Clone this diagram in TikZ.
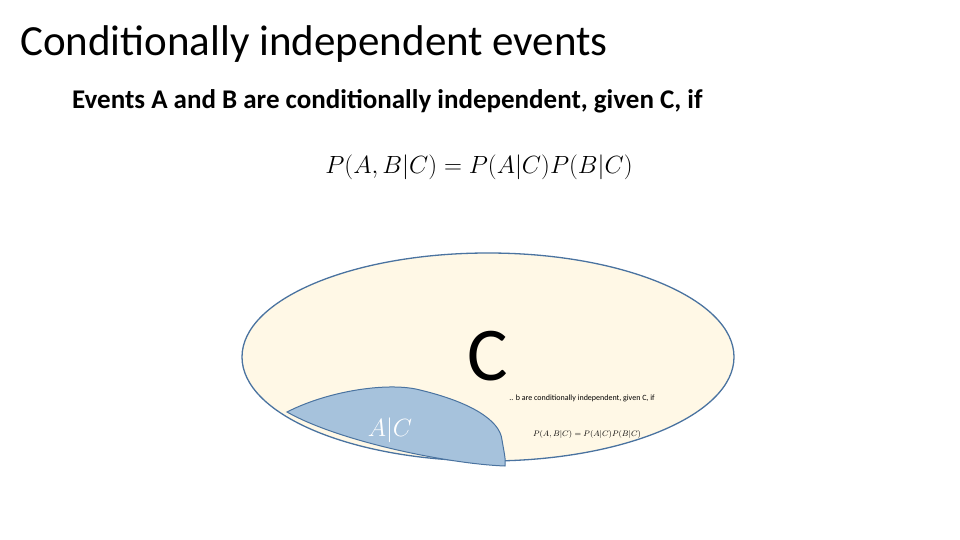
\documentclass[tikz,border=0pt]{standalone}
\usepackage{fontspec}
\setmainfont{Carlito}
\usetikzlibrary{shapes.geometric}
\definecolor{cream}{HTML}{FFF8E6}
\definecolor{edge}{HTML}{4A73A0}
\definecolor{blob}{HTML}{A6C2DC}
\begin{document}
\begin{tikzpicture}[x=1pt,y=-1pt]
\useasboundingbox (0,0) rectangle (960,540);
\tikzset{lbl/.style={inner sep=0pt,anchor=west}}
\node[lbl] (title) at (20,44) {\fontsize{43}{46}\selectfont Conditionally independent events};
\node[lbl] (sub) at (72,101) {\fontsize{27}{30}\selectfont\bfseries Events A and B are conditionally independent, given C, if};
\node (eq) at (479,167) {\fontsize{25}{28}\selectfont $P(A,B|C)=P(A|C)P(B|C)$};
\node[draw=edge,line width=1.3pt,fill=cream,ellipse,inner sep=0pt,minimum width=492pt,minimum height=208pt] (ell) at (488,357) {};
\filldraw[fill=blob,draw=edge,line width=1pt] (287,412) .. controls (330,390) and (390,382) .. (420,390)
  .. controls (470,402) and (500,420) .. (502,440) .. controls (504,452) and (506,460) .. (505,466)
  .. controls (450,464) and (340,442) .. (287,412) -- cycle;
\node (c) at (488,356) {\fontsize{76}{80}\selectfont C};
\node[text=white] (ac) at (390,430) {\fontsize{30}{34}\selectfont $A|C$};
\node (s1) at (582,398) {\fontsize{8}{9}\selectfont .. b are conditionally independent, given C, if};
\node (s2) at (587,434) {\fontsize{8}{9}\selectfont $P(A,B|C)=P(A|C)P(B|C)$};
\end{tikzpicture}
\end{document}
